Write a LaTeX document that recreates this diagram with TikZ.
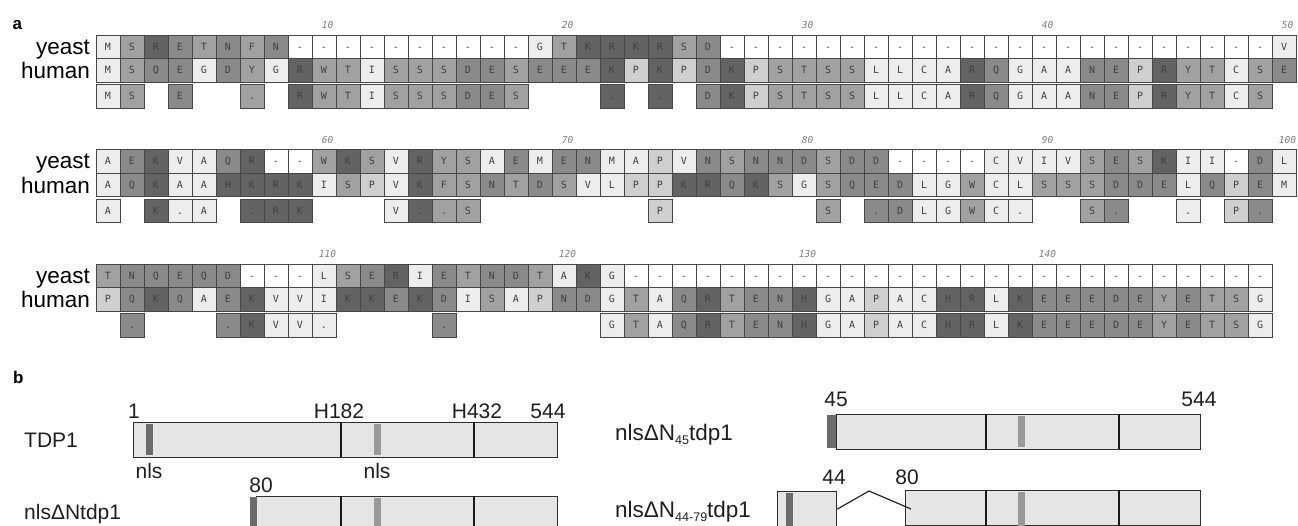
\documentclass[tikz,border=0pt]{standalone}
\usepackage{fontspec}
\setmainfont{Liberation Sans}
\newfontfamily\aamono{DejaVu Sans Mono}
\usetikzlibrary{positioning}

% residue shades
\definecolor{shVL}{gray}{0.93}
\definecolor{shL}{gray}{0.81}
\definecolor{shM}{gray}{0.63}
\definecolor{shMD}{gray}{0.54}
\definecolor{shD}{gray}{0.39}
\colorlet{aaM}{shVL}\colorlet{aaG}{shVL}\colorlet{aaI}{shVL}\colorlet{aaL}{shVL}
\colorlet{aaC}{shVL}\colorlet{aaA}{shVL}\colorlet{aaV}{shVL}
\colorlet{aaP}{shL}
\colorlet{aaS}{shM}\colorlet{aaT}{shM}\colorlet{aaW}{shM}\colorlet{aaY}{shM}\colorlet{aaF}{shM}
\colorlet{aaE}{shMD}\colorlet{aaD}{shMD}\colorlet{aaN}{shMD}\colorlet{aaQ}{shMD}
\colorlet{aaR}{shD}\colorlet{aaK}{shD}\colorlet{aaH}{shD}

\tikzset{
  rescell/.style={draw=black!72, line width=0.7pt, minimum width=24pt, minimum height=23.5pt,
    inner sep=0pt, text height=7.4pt, text depth=0pt,
    font=\aamono\fontsize{10}{10}\selectfont, text=black!75},
  colnum/.style={font=\aamono\itshape\fontsize{9.5}{10}\selectfont, text=black!50, inner sep=0pt},
  rowlabel/.style={anchor=base east, font=\fontsize{22.5}{22.5}\selectfont, inner sep=0pt},
  panel/.style={anchor=base west, font=\bfseries\fontsize{17}{17}\selectfont, inner sep=0pt},
  dombar/.style={draw=black!82, fill=black!10, line width=1.3pt, anchor=north west,
    minimum height=35pt, inner sep=0pt},
  hisline/.style={black!90, line width=2.8pt},
  nlsA/.style={fill=black!58},
  nlsB/.style={fill=black!40},
  btext/.style={font=\fontsize{21}{21}\selectfont, inner sep=0pt, text=black!88},
  bbig/.style={btext, font=\fontsize{22.5}{22.5}\selectfont},
}

% one alignment block: #1 block index, #2 list human/yeast/consensus code
\newcommand\aablock[2]{%
  \pgfmathsetmacro\ytop{35+114.5*#1}
  \node[rowlabel] (ly#1) at (90,\ytop+19) {yeast};
  \node[rowlabel] (lh#1) at (90,\ytop+43.5) {human};
  \foreach \hu/\ye/\co [count=\i] in {#2} {
    \pgfmathsetmacro\xc{84+24*\i}
    \edef\fy{\if\ye-white\else aa\ye\fi}
    \node[rescell, fill=\fy] (y#1-\i) at (\xc,\ytop+11.75) {\ye};
    \node[rescell, fill=aa\hu] (h#1-\i) at (\xc,\ytop+35.25) {\hu};
    \ifnum\co>0
      \node[rescell, fill=aa\hu] (c#1-\i) at (\xc,\ytop+61.25) {\ifnum\co=1 \hu\else .\fi};
    \fi
  }
}
\newcommand\subn[1]{\raisebox{-4.5pt}{\fontsize{12.5}{12.5}\selectfont #1}}

\begin{document}
\begin{tikzpicture}[x=1pt,y=1pt,yscale=-1]
\useasboundingbox (0,0) rectangle (1298,525);
\clip (0,0) rectangle (1298,525);

% panel a
\node[panel] (pa) at (12.5,29) {a};
\aablock{0}{M/M/1, S/S/1, Q/R/0, E/E/1, G/T/0, D/N/0, Y/F/2, G/N/0, R/-/1, W/-/1,
  T/-/1, I/-/1, S/-/1, S/-/1, S/-/1, D/-/1, E/-/1, S/-/1, E/G/0, E/T/0,
  E/K/0, K/R/2, P/K/0, K/R/2, P/S/0, D/D/1, K/-/1, P/-/1, S/-/1, T/-/1,
  S/-/1, S/-/1, L/-/1, L/-/1, C/-/1, A/-/1, R/-/1, Q/-/1, G/-/1, A/-/1,
  A/-/1, N/-/1, E/-/1, P/-/1, R/-/1, Y/-/1, T/-/1, C/-/1, S/-/1, E/V/0}
\aablock{1}{A/A/1, Q/E/0, K/K/1, A/V/2, A/A/1, H/Q/0, K/R/2, R/-/1, K/-/1, I/W/0,
  S/K/0, P/S/0, V/V/1, K/R/2, F/Y/2, S/S/1, N/A/0, T/E/0, D/M/0, S/E/0,
  V/N/0, L/M/0, P/A/0, P/P/1, K/V/0, R/N/0, Q/S/0, K/N/0, S/N/0, G/D/0,
  S/S/1, Q/D/0, E/D/2, D/-/1, L/-/1, G/-/1, W/-/1, C/C/1, L/V/2, S/I/0,
  S/V/0, S/S/1, D/E/2, D/S/0, E/K/0, L/I/2, Q/I/0, P/-/1, E/D/2, M/L/0}
\aablock{2}{P/T/0, Q/N/2, K/Q/0, Q/E/0, A/Q/0, E/D/2, K/-/1, V/-/1, V/-/1, I/L/2,
  K/S/0, K/E/0, E/R/0, K/I/0, D/E/2, I/T/0, S/N/0, A/D/0, P/T/0, N/A/0,
  D/K/0, G/G/1, T/-/1, A/-/1, Q/-/1, R/-/1, T/-/1, E/-/1, N/-/1, H/-/1,
  G/-/1, A/-/1, P/-/1, A/-/1, C/-/1, H/-/1, R/-/1, L/-/1, K/-/1, E/-/1,
  E/-/1, E/-/1, D/-/1, E/-/1, Y/-/1, E/-/1, T/-/1, S/-/1, G/-/1}
% column numbers
\foreach \lab in {10,20,...,140} {
  \pgfmathtruncatemacro\blk{(\lab-1)/50}
  \pgfmathsetmacro\xn{84+24*(\lab-50*\blk)+3.5}
  \node[colnum] (n\lab) at (\xn,25.5+114.5*\blk) {\lab};
}

% panel b
\node[panel] (pb) at (13,383) {b};

% TDP1
\node[btext, anchor=base west] (ltdp) at (24,447.5) {TDP1};
\node[dombar, minimum width=424pt] (tdp) at (133,422) {};
\fill[nlsA] (145.5,424) rectangle (152.5,455);
\fill[nlsB] (373.5,424) rectangle (380.5,455);
\draw[hisline] (341,422) -- (341,457);
\draw[hisline] (474,422) -- (474,457);
\node[btext, anchor=base] (p1) at (134,418) {1};
\node[btext, anchor=base] (p182) at (339,418) {H182};
\node[btext, anchor=base] (p432) at (477,418) {H432};
\node[btext, anchor=base] (p544) at (548,418) {544};
\node[btext, anchor=base] (nls1) at (149,478) {nls};
\node[btext, anchor=base] (nls2) at (377,478) {nls};

% nlsDeltaNtdp1
\node[btext, anchor=base west] (ldn) at (24,519.5) {nlsΔNtdp1};
\node[btext, anchor=base] (p80) at (261,492) {80};
\node[dombar, minimum width=301pt] (dn) at (256,496) {};
\fill[nlsA] (250,497) rectangle (256.5,530);
\fill[nlsB] (373.5,498) rectangle (380.5,530);
\draw[hisline] (341,496) -- (341,531);
\draw[hisline] (474,496) -- (474,531);

% nlsDeltaN45tdp1
\node[bbig, anchor=base west] (ldn45) at (615,440) {nlsΔN\subn{45}tdp1};
\node[btext, anchor=base] (p45) at (836,406) {45};
\node[btext, anchor=base] (p544r) at (1199,406) {544};
\node[dombar, minimum width=364pt] (dn45) at (836,414) {};
\fill[nlsA] (827,415) rectangle (836,448);
\fill[nlsB] (1018,416) rectangle (1025,447);
\draw[hisline] (986,414) -- (986,449);
\draw[hisline] (1119,414) -- (1119,449);

% nlsDeltaN44-79tdp1
\node[bbig, anchor=base west] (ldn44) at (615,517) {nlsΔN\subn{44-79}tdp1};
\node[btext, anchor=base] (p44) at (834,484) {44};
\node[btext, anchor=base] (p80r) at (907,484) {80};
\node[dombar, minimum width=59pt] (nterm) at (777,491) {};
\fill[nlsA] (786,493) rectangle (793,530);
\node[dombar, minimum width=295pt] (cterm) at (905,490) {};
\fill[nlsB] (1018,492) rectangle (1025,530);
\draw[hisline] (986,490) -- (986,531);
\draw[hisline] (1119,490) -- (1119,531);
\coordinate (peak) at (869,491);
\coordinate (joinend) at (911,509);
\draw[black!85, line width=1.2pt] (nterm.east) -- (peak) -- (joinend);
\end{tikzpicture}
\end{document}
